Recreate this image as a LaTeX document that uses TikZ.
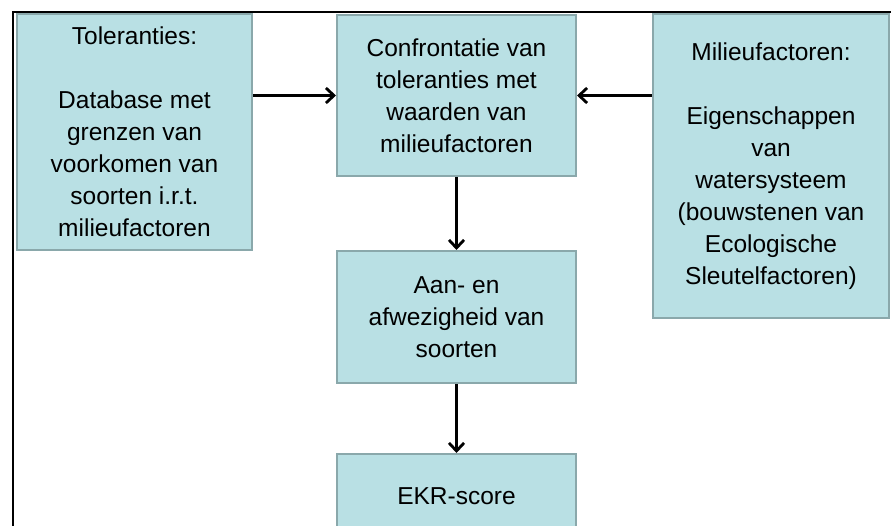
\documentclass[tikz,border=0pt]{standalone}
\usepackage{fontspec}
\setmainfont{Liberation Sans}
\usetikzlibrary{arrows.meta}
\definecolor{boxfill}{RGB}{185,224,228}
\definecolor{boxline}{RGB}{138,168,171}
\begin{document}
\begin{tikzpicture}[x=1pt,y=-1pt,
  box/.style={draw=boxline,fill=boxfill,line width=2pt,align=center,
    inner sep=0pt,font=\fontsize{24.5}{32}\selectfont},
  conn/.style={line width=2.8pt,-{Straight Barb[length=8pt,width=15pt,line width=2.8pt]}}]
\clip (0,0) rectangle (891,526);
\fill[white] (0,0) rectangle (891,526);
\draw[line width=1.4pt] (891,12) -| (13,530);
\node[box,minimum width=235pt,minimum height=236pt] (tol) at (134.5,132)
  {Toleranties:\\[32pt]Database met\\grenzen van\\voorkomen van\\soorten i.r.t.\\milieufactoren};
\node[box,minimum width=239pt,minimum height=161pt] (conf) at (456.5,95.5)
  {Confrontatie van\\toleranties met\\waarden van\\milieufactoren};
\node[box,minimum width=236pt,minimum height=304pt] (mil) at (771,166)
  {Milieufactoren:\\[32pt]Eigenschappen\\van\\watersysteem\\(bouwstenen van\\Ecologische\\Sleutelfactoren)};
\node[box,minimum width=239pt,minimum height=132pt] (aan) at (456.5,317)
  {Aan- en\\afwezigheid van\\soorten};
\node[box,minimum width=239pt,minimum height=84pt] (ekr) at (456.5,496)
  {EKR-score};
\draw[conn] (tol.east |- conf.west) -- (conf.west);
\draw[conn] (mil.west |- conf.east) -- (conf.east);
\draw[conn] (conf.south) -- (aan.north);
\draw[conn] (aan.south) -- (ekr.north);
\end{tikzpicture}
\end{document}
